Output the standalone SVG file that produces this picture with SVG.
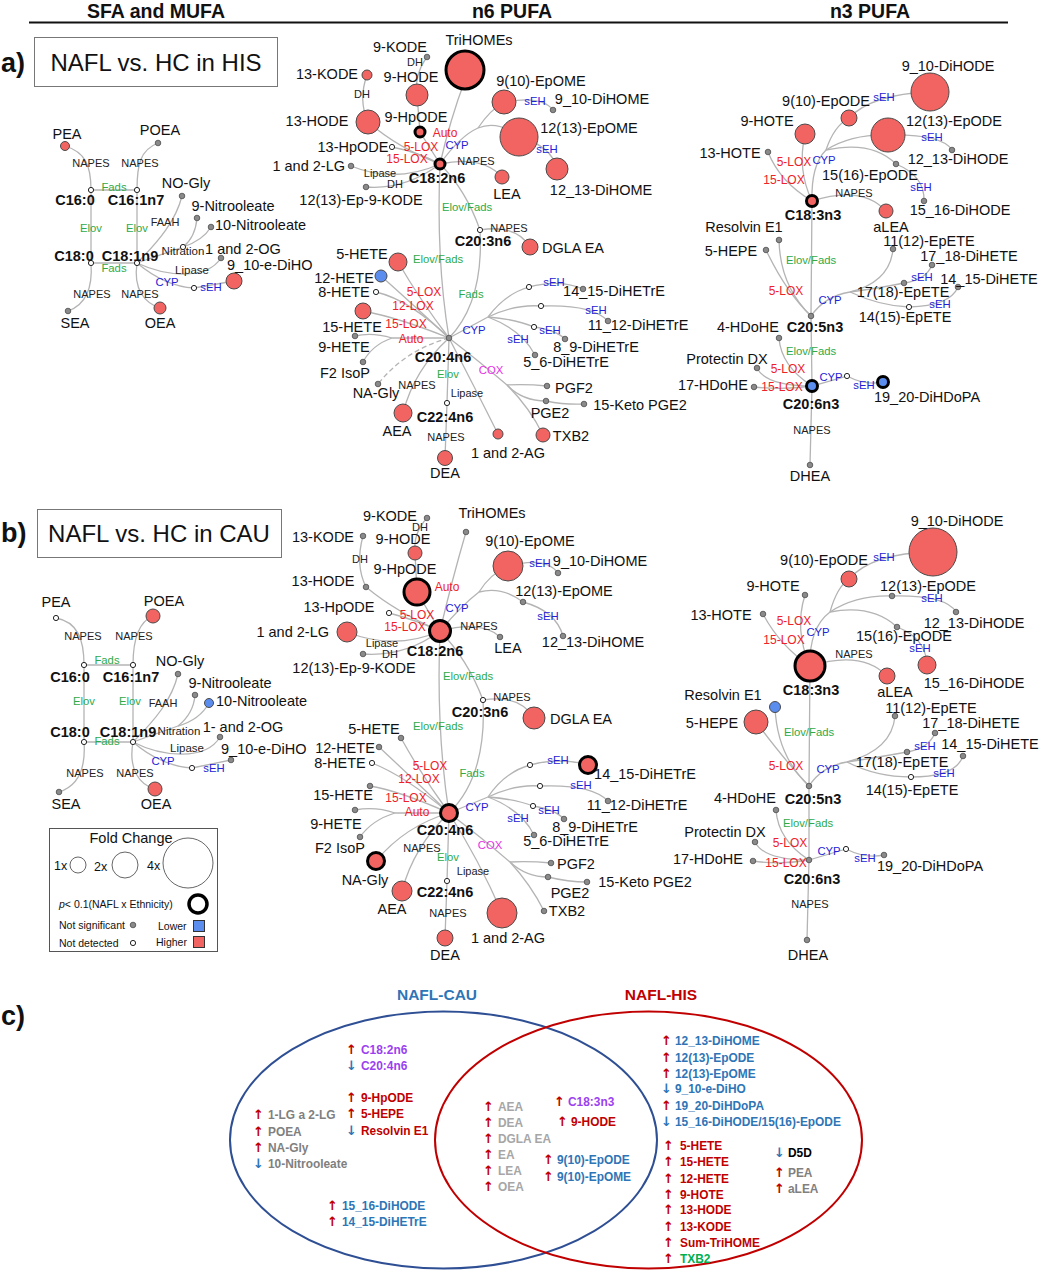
<svg xmlns="http://www.w3.org/2000/svg" width="1041" height="1280" viewBox="0 0 1041 1280">
<style>
text{font-family:"Liberation Sans",Arial,Helvetica,sans-serif}
.e{fill:none;stroke:#b4b4b4;stroke-width:1.3}
.ed{fill:none;stroke:#b4b4b4;stroke-width:1.3;stroke-dasharray:5 3}
.r{fill:#f26461;stroke:#4a4a4a;stroke-width:1}
.rt{fill:#f26461;stroke:#000;stroke-width:3}
.b{fill:#5b8def;stroke:#4a4a4a;stroke-width:1}
.bt{fill:#5b8def;stroke:#000;stroke-width:3}
.g{fill:#8a8a8a;stroke:#4d4d4d;stroke-width:0.8}
.o{fill:#fff;stroke:#222;stroke-width:1}
.l{font-size:14.5px;text-anchor:middle;dominant-baseline:central;fill:#111}
.ls{font-size:14.5px;text-anchor:start;dominant-baseline:central;fill:#111}
.le{font-size:14.5px;text-anchor:end;dominant-baseline:central;fill:#111}
.lb{font-size:14.5px;font-weight:bold;text-anchor:middle;dominant-baseline:central;fill:#111}
.n{font-size:11px;text-anchor:middle;dominant-baseline:central;fill:#222}
.eg{font-size:11.3px;text-anchor:middle;dominant-baseline:central;fill:#2eaa4a}
.er{font-size:12px;text-anchor:middle;dominant-baseline:central;fill:#ee2229}
.eb{font-size:11.3px;text-anchor:middle;dominant-baseline:central;fill:#2323d6}
.em{font-size:11.3px;text-anchor:middle;dominant-baseline:central;fill:#e62ee6}
.hd{font-size:19.5px;font-weight:bold;text-anchor:middle;fill:#111}
.pl{font-size:27px;font-weight:bold;fill:#111}
.bx{font-size:24px;text-anchor:middle;dominant-baseline:central;fill:#111}
.lg{font-size:10.5px;dominant-baseline:central;fill:#111}
.lx{font-size:12.5px;dominant-baseline:central;fill:#111}
.c{font-size:11.9px;font-weight:bold}
.up{fill:#c00000;font-family:"DejaVu Sans",sans-serif;font-size:13px}
.dn{fill:#2e75b6;font-family:"DejaVu Sans",sans-serif;font-size:13px}
.pu{fill:#9b3ff0}
.dr{fill:#c00000}
.bl{fill:#2e75b6}
.gy{fill:#808080}
.lgy{fill:#a6a6a6}
</style>

<!-- headers -->
<g id="headers">
<text class="hd" x="156" y="18">SFA and MUFA</text>
<text class="hd" x="512" y="18">n6 PUFA</text>
<text class="hd" x="870" y="18">n3 PUFA</text>
<line x1="29" y1="22.5" x2="1008" y2="22.5" stroke="#111" stroke-width="2"/>
<text class="pl" x="1" y="72">a)</text>
<rect x="34.5" y="37.5" width="243" height="49" fill="#fff" stroke="#777" stroke-width="1"/>
<text class="bx" x="156" y="62">NAFL vs. HC in HIS</text>
<text class="pl" x="1" y="542">b)</text>
<rect x="37.5" y="509.5" width="244" height="48" fill="#fff" stroke="#777" stroke-width="1"/>
<text class="bx" x="159" y="533">NAFL vs. HC in CAU</text>
<text class="pl" x="1" y="1025">c)</text>
</g>

<!-- connectors -->
<g id="connectors">
<!-- panel a left -->
<path class="e" d="M65,146 C85,152 91,165 91,190"/>
<path class="e" d="M158,143 C140,150 137,165 137,190"/>
<path class="e" d="M91,190 L137,190"/>
<path class="e" d="M91,190 L91,263"/>
<path class="e" d="M137,190 L137,263"/>
<path class="e" d="M91,263 L137,263"/>
<path class="e" d="M91,263 C93,290 85,305 68,311"/>
<path class="e" d="M137,263 C133,290 145,303 160,308"/>
<path class="e" d="M137,263 C160,240 176,220 182,196"/>
<path class="e" d="M137,263 L183,247"/>
<path class="e" d="M183,247 C192,240 196,230 197,218"/>
<path class="e" d="M183,247 C195,243 205,237 211,227"/>
<path class="e" d="M137,263 C165,276 206,281 221,258"/>
<path class="e" d="M137,263 C155,278 175,287 194,288"/>
<path class="e" d="M194,288 L234,281"/>
<!-- panel a middle -->
<path class="e" d="M440,164 Q450,120 465,80"/>
<path class="e" d="M427,57 Q414,75 417,95"/>
<path class="e" d="M417,95 L420,132 L440,164"/>
<path class="e" d="M367,75 Q358,100 368,122"/>
<path class="e" d="M368,122 Q398,148 440,164"/>
<path class="e" d="M392,147 Q418,152 440,164"/>
<path class="e" d="M440,164 Q395,184 351,166"/>
<path class="e" d="M440,164 Q405,190 366,187"/>
<path class="e" d="M440,164 Q460,136 478,128"/>
<path class="e" d="M478,128 Q490,110 504,102"/>
<path class="e" d="M478,128 Q498,120 519,137"/>
<path class="e" d="M504,102 Q542,95 553,110"/>
<path class="e" d="M519,137 Q552,146 557,169"/>
<path class="e" d="M440,164 Q482,155 502,177"/>
<path class="e" d="M440,164 Q466,190 480,230"/>
<path class="e" d="M440,164 Q436,260 449,338"/>
<path class="e" d="M480,230 Q484,302 449,338"/>
<path class="e" d="M480,230 Q516,224 530,247"/>
<path class="e" d="M449,338 Q420,300 398,262"/>
<path class="e" d="M449,338 Q408,300 381,276"/>
<path class="e" d="M449,338 Q410,300 376,292"/>
<path class="e" d="M449,338 Q400,318 363,311"/>
<path class="e" d="M449,338 L392,338"/>
<path class="e" d="M392,338 Q372,332 355,336"/>
<path class="e" d="M392,338 Q372,345 363,362"/>
<path class="ed" d="M449,338 Q405,350 378,384"/>
<path class="e" d="M449,338 Q414,370 403,413"/>
<path class="e" d="M449,338 L447,403 L445,458"/>
<path class="e" d="M449,338 Q476,390 498,434"/>
<path class="e" d="M449,338 Q480,362 507,385"/>
<path class="e" d="M507,385 Q527,384 547,386"/>
<path class="e" d="M507,385 Q522,401 546,401"/>
<path class="e" d="M546,401 Q566,405 584,404"/>
<path class="e" d="M507,385 Q530,408 543,435"/>
<path class="e" d="M449,338 L488,317"/>
<path class="e" d="M488,317 Q505,294 529,287"/>
<path class="e" d="M529,287 Q560,279 583,289"/>
<path class="e" d="M488,317 Q515,304 541,306"/>
<path class="e" d="M541,306 Q592,304 608,321"/>
<path class="e" d="M488,317 Q515,319 534,327"/>
<path class="e" d="M534,327 Q556,330 565,339"/>
<path class="e" d="M488,317 Q522,330 535,355"/>
<!-- panel a right -->
<path class="e" d="M812,201 Q797,170 805,134"/>
<path class="e" d="M812,201 Q780,182 768,152"/>
<path class="e" d="M812,201 Q811,165 826,150"/>
<path class="e" d="M826,150 Q834,126 849,118"/>
<path class="e" d="M826,150 Q852,134 888,135"/>
<path class="e" d="M826,150 Q872,140 896,164"/>
<path class="e" d="M849,118 Q872,94 930,92"/>
<path class="e" d="M888,135 Q942,134 952,150"/>
<path class="e" d="M896,164 Q925,176 924,201"/>
<path class="e" d="M812,201 Q862,185 886,211"/>
<path class="e" d="M812,201 L811,316 L812,386 L810,465"/>
<path class="e" d="M811,316 Q780,286 779,240"/>
<path class="e" d="M811,316 Q786,292 766,250"/>
<path class="e" d="M811,316 Q825,296 850,292"/>
<path class="e" d="M850,292 Q890,282 893,249"/>
<path class="e" d="M850,292 Q880,288 904,283"/>
<path class="e" d="M904,283 Q926,280 932,265"/>
<path class="e" d="M850,292 Q880,306 909,307"/>
<path class="e" d="M909,307 Q950,306 958,287"/>
<path class="e" d="M812,386 Q781,366 779,338"/>
<path class="e" d="M812,386 Q766,386 757,368"/>
<path class="e" d="M812,386 Q784,390 754,387"/>
<path class="e" d="M812,386 L847,376"/>
<path class="e" d="M847,376 Q866,386 883,382"/>
<!-- panel b left -->
<path class="e" d="M56,618 C78,622 84,640 84,665"/>
<path class="e" d="M153,616 C138,622 133,640 133,665"/>
<path class="e" d="M84,665 L133,665"/>
<path class="e" d="M84,665 L84,742"/>
<path class="e" d="M133,665 L133,742"/>
<path class="e" d="M84,742 L133,742"/>
<path class="e" d="M84,742 C86,770 78,786 59,792"/>
<path class="e" d="M133,742 C128,770 140,785 155,789"/>
<path class="e" d="M133,742 C155,720 172,700 178,674"/>
<path class="e" d="M133,742 L178,726"/>
<path class="e" d="M178,726 C188,718 194,708 195,695"/>
<path class="e" d="M178,726 C192,722 203,714 209,703"/>
<path class="e" d="M133,742 C160,756 205,762 220,737"/>
<path class="e" d="M133,742 C150,757 172,767 192,768"/>
<path class="e" d="M192,768 L231,760"/>
<!-- panel b middle -->
<path class="e" d="M440,631 Q452,580 466,532"/>
<path class="e" d="M427,518 Q413,533 415,553"/>
<path class="e" d="M415,553 L417,592 L440,631"/>
<path class="e" d="M363,536 Q355,565 366,587"/>
<path class="e" d="M366,587 Q396,612 440,631"/>
<path class="e" d="M389,613 Q416,620 440,631"/>
<path class="e" d="M440,631 Q395,651 347,632"/>
<path class="e" d="M440,631 Q405,657 363,654"/>
<path class="e" d="M440,631 Q462,605 479,592"/>
<path class="e" d="M479,592 Q490,574 508,566"/>
<path class="e" d="M479,592 Q502,586 523,602"/>
<path class="e" d="M523,602 Q556,611 563,636"/>
<path class="e" d="M508,566 Q546,556 558,573"/>
<path class="e" d="M440,631 Q482,620 500,637"/>
<path class="e" d="M440,631 Q468,660 483,700"/>
<path class="e" d="M440,631 Q436,730 449,813"/>
<path class="e" d="M483,700 Q487,776 449,813"/>
<path class="e" d="M483,700 Q519,694 534,718"/>
<path class="e" d="M449,813 Q422,776 401,738"/>
<path class="e" d="M449,813 Q410,776 379,747"/>
<path class="e" d="M449,813 Q405,776 372,763"/>
<path class="e" d="M449,813 Q400,791 370,786"/>
<path class="e" d="M449,813 L395,813"/>
<path class="e" d="M395,813 Q375,806 355,810"/>
<path class="e" d="M395,813 Q372,820 360,837"/>
<path class="e" d="M449,813 Q405,826 376,861"/>
<path class="e" d="M449,813 Q414,846 402,891"/>
<path class="e" d="M449,813 L447,881 L445,938"/>
<path class="e" d="M449,813 Q479,860 502,913"/>
<path class="e" d="M449,813 Q482,838 510,862"/>
<path class="e" d="M510,862 Q530,861 551,863"/>
<path class="e" d="M510,862 Q526,877 548,877"/>
<path class="e" d="M548,877 Q568,882 587,882"/>
<path class="e" d="M510,862 Q531,885 544,911"/>
<path class="e" d="M449,813 L488,797"/>
<path class="e" d="M488,797 Q505,772 530,765"/>
<path class="e" d="M530,765 Q560,757 588,765"/>
<path class="e" d="M488,797 Q515,784 540,786"/>
<path class="e" d="M540,786 Q592,784 608,801"/>
<path class="e" d="M488,797 Q515,799 533,806"/>
<path class="e" d="M533,806 Q556,810 564,819"/>
<path class="e" d="M488,797 Q522,810 534,835"/>
<!-- panel b right -->
<path class="e" d="M810,666 Q794,630 805,595"/>
<path class="e" d="M810,666 Q780,646 763,614"/>
<path class="e" d="M810,666 Q809,628 830,612"/>
<path class="e" d="M830,612 Q837,587 849,579"/>
<path class="e" d="M830,612 Q856,595 892,596"/>
<path class="e" d="M830,612 Q872,604 897,627"/>
<path class="e" d="M849,579 Q872,553 933,552"/>
<path class="e" d="M892,596 Q946,595 956,612"/>
<path class="e" d="M897,627 Q926,638 927,665"/>
<path class="e" d="M810,666 Q862,650 887,676"/>
<path class="e" d="M810,666 L809,786 L809,860 L807,940"/>
<path class="e" d="M809,786 Q777,756 775,707"/>
<path class="e" d="M809,786 Q786,762 756,722"/>
<path class="e" d="M809,786 Q822,766 847,762"/>
<path class="e" d="M847,762 Q892,750 895,716"/>
<path class="e" d="M847,762 Q880,757 907,752"/>
<path class="e" d="M907,752 Q929,748 935,733"/>
<path class="e" d="M847,762 Q876,777 911,777"/>
<path class="e" d="M911,777 Q956,777 963,756"/>
<path class="e" d="M809,860 Q778,840 776,810"/>
<path class="e" d="M809,860 Q764,860 755,842"/>
<path class="e" d="M809,860 Q781,865 753,861"/>
<path class="e" d="M809,860 L846,849"/>
<path class="e" d="M846,849 Q866,859 884,855"/>
</g>

<!-- edge labels -->
<g id="edge-labels">
<!-- a left -->
<text class="n" x="91" y="163">NAPES</text><text class="n" x="140" y="163">NAPES</text>
<text class="eg" x="114" y="187">Fads</text>
<text class="eg" x="91" y="228">Elov</text><text class="eg" x="137" y="228">Elov</text>
<text class="n" x="165" y="222">FAAH</text>
<text class="n" x="183" y="251" style="font-size:11.5px">Nitration</text>
<text class="eg" x="114" y="268">Fads</text>
<text class="n" x="192" y="270" style="font-size:11.5px">Lipase</text>
<text class="eb" x="167" y="282">CYP</text><text class="eb" x="211" y="287">sEH</text>
<text class="n" x="92" y="294">NAPES</text><text class="n" x="140" y="294">NAPES</text>
<!-- a middle -->
<text class="n" x="415" y="62">DH</text><text class="n" x="362" y="94">DH</text>
<text class="er" x="445" y="133">Auto</text>
<text class="er" x="421" y="147">5-LOX</text>
<text class="eb" x="457" y="145">CYP</text>
<text class="er" x="407" y="159">15-LOX</text>
<text class="n" x="476" y="161">NAPES</text>
<text class="n" x="380" y="173">Lipase</text>
<text class="n" x="395" y="184">DH</text>
<text class="eb" x="535" y="101">sEH</text><text class="eb" x="547" y="149">sEH</text>
<text class="eg" x="467" y="207">Elov/Fads</text>
<text class="n" x="509" y="228">NAPES</text>
<text class="eg" x="438" y="259">Elov/Fads</text>
<text class="er" x="424" y="292">5-LOX</text>
<text class="eg" x="471" y="294">Fads</text>
<text class="er" x="413" y="306">12-LOX</text>
<text class="er" x="406" y="324">15-LOX</text>
<text class="eb" x="474" y="330">CYP</text>
<text class="er" x="411" y="339">Auto</text>
<text class="em" x="491" y="370">COX</text>
<text class="eg" x="448" y="374">Elov</text>
<text class="n" x="417" y="385">NAPES</text>
<text class="n" x="467" y="393">Lipase</text>
<text class="n" x="446" y="437">NAPES</text>
<text class="eb" x="554" y="282">sEH</text><text class="eb" x="596" y="310">sEH</text>
<text class="eb" x="550" y="330">sEH</text><text class="eb" x="518" y="339">sEH</text>
<!-- a right -->
<text class="eb" x="884" y="97">sEH</text><text class="eb" x="932" y="137">sEH</text>
<text class="er" x="794" y="162">5-LOX</text><text class="eb" x="824" y="160">CYP</text>
<text class="er" x="784" y="180">15-LOX</text>
<text class="eb" x="921" y="187">sEH</text>
<text class="n" x="854" y="193">NAPES</text>
<text class="eg" x="811" y="260">Elov/Fads</text>
<text class="eb" x="922" y="277">sEH</text>
<text class="er" x="786" y="291">5-LOX</text>
<text class="eb" x="830" y="300">CYP</text>
<text class="eb" x="940" y="304">sEH</text>
<text class="eg" x="811" y="351">Elov/Fads</text>
<text class="er" x="788" y="369">5-LOX</text>
<text class="eb" x="831" y="377">CYP</text>
<text class="er" x="782" y="387">15-LOX</text>
<text class="eb" x="864" y="385">sEH</text>
<text class="n" x="812" y="430">NAPES</text>
<!-- b left -->
<text class="n" x="83" y="636">NAPES</text><text class="n" x="134" y="636">NAPES</text>
<text class="eg" x="107" y="660">Fads</text>
<text class="eg" x="84" y="701">Elov</text><text class="eg" x="130" y="701">Elov</text>
<text class="n" x="163" y="703">FAAH</text>
<text class="n" x="179" y="731" style="font-size:11.5px">Nitration</text>
<text class="eg" x="107" y="741">Fads</text>
<text class="n" x="187" y="748" style="font-size:11.5px">Lipase</text>
<text class="eb" x="163" y="761">CYP</text><text class="eb" x="214" y="768">sEH</text>
<text class="n" x="85" y="773">NAPES</text><text class="n" x="135" y="773">NAPES</text>
<!-- b middle -->
<text class="n" x="420" y="527">DH</text><text class="n" x="360" y="559">DH</text>
<text class="eb" x="540" y="563">sEH</text>
<text class="er" x="447" y="587">Auto</text>
<text class="er" x="417" y="615">5-LOX</text>
<text class="eb" x="457" y="608">CYP</text>
<text class="eb" x="548" y="616">sEH</text>
<text class="er" x="405" y="627">15-LOX</text>
<text class="n" x="479" y="626">NAPES</text>
<text class="n" x="382" y="643">Lipase</text>
<text class="n" x="390" y="654">DH</text>
<text class="eg" x="468" y="676">Elov/Fads</text>
<text class="n" x="512" y="697">NAPES</text>
<text class="eg" x="438" y="726">Elov/Fads</text>
<text class="er" x="430" y="766">5-LOX</text>
<text class="er" x="419" y="779">12-LOX</text>
<text class="eg" x="472" y="773">Fads</text>
<text class="eb" x="558" y="760">sEH</text><text class="eb" x="581" y="785">sEH</text>
<text class="er" x="406" y="798">15-LOX</text>
<text class="eb" x="477" y="807">CYP</text>
<text class="eb" x="549" y="810">sEH</text>
<text class="er" x="417" y="812">Auto</text>
<text class="eb" x="518" y="818">sEH</text>
<text class="em" x="490" y="845">COX</text>
<text class="n" x="422" y="848">NAPES</text>
<text class="eg" x="448" y="857">Elov</text>
<text class="n" x="473" y="871">Lipase</text>
<text class="n" x="448" y="913">NAPES</text>
<!-- b right -->
<text class="eb" x="884" y="557">sEH</text><text class="eb" x="932" y="598">sEH</text>
<text class="er" x="794" y="621">5-LOX</text><text class="eb" x="818" y="632">CYP</text>
<text class="er" x="784" y="640">15-LOX</text>
<text class="eb" x="920" y="648">sEH</text>
<text class="n" x="854" y="654">NAPES</text>
<text class="eg" x="809" y="732">Elov/Fads</text>
<text class="eb" x="925" y="746">sEH</text>
<text class="er" x="786" y="766">5-LOX</text>
<text class="eb" x="828" y="769">CYP</text>
<text class="eb" x="944" y="773">sEH</text>
<text class="eg" x="808" y="823">Elov/Fads</text>
<text class="er" x="790" y="843">5-LOX</text>
<text class="eb" x="829" y="851">CYP</text>
<text class="eb" x="865" y="858">sEH</text>
<text class="er" x="786" y="863">15-LOX</text>
<text class="n" x="810" y="904">NAPES</text>
</g>

<!-- panel a left nodes -->
<g id="a-PEA"><circle class="r" cx="65" cy="146" r="4.5"/><text class="l" x="67" y="134">PEA</text></g>
<g id="a-POEA"><circle class="g" cx="158" cy="143" r="2.8"/><text class="l" x="160" y="130">POEA</text></g>
<g id="a-C16_0"><circle class="o" cx="91" cy="190" r="2.6"/><text class="lb" x="75" y="200">C16:0</text></g>
<g id="a-C16_1n7"><circle class="o" cx="137" cy="190" r="2.6"/><text class="lb" x="136" y="200">C16:1n7</text></g>
<g id="a-NOGly"><circle class="g" cx="182" cy="196" r="2.8"/><text class="l" x="186" y="183">NO-Gly</text></g>
<g id="a-9Nitro"><circle class="g" cx="197" cy="218" r="2.8"/><text class="l" x="233" y="206">9-Nitrooleate</text></g>
<g id="a-10Nitro"><circle class="g" cx="211" cy="227" r="2.8"/><text class="ls" x="215" y="225">10-Nitrooleate</text></g>
<g id="a-nitration"><circle class="o" cx="183" cy="247" r="2.6"/></g>
<g id="a-OG"><circle class="g" cx="221" cy="258" r="2.8"/><text class="l" x="243" y="249">1 and 2-OG</text></g>
<g id="a-C18_0"><circle class="o" cx="91" cy="263" r="2.6"/><text class="lb" x="74" y="256">C18:0</text></g>
<g id="a-C18_1n9"><circle class="o" cx="137" cy="263" r="2.6"/><text class="lb" x="130" y="256">C18:1n9</text></g>
<g id="a-cyp1"><circle class="o" cx="194" cy="288" r="2.6"/></g>
<g id="a-eDiHO"><circle class="r" cx="234" cy="281" r="8"/><text class="ls" x="227" y="265">9_10-e-DiHO</text></g>
<g id="a-SEA"><circle class="g" cx="68" cy="311" r="2.8"/><text class="l" x="75" y="323">SEA</text></g>
<g id="a-OEA"><circle class="r" cx="160" cy="308" r="6"/><text class="l" x="160" y="323">OEA</text></g>

<!-- panel a middle nodes -->
<g id="a-TriHOMEs"><circle class="rt" cx="465" cy="70" r="19"/><text class="l" x="479" y="40">TriHOMEs</text></g>
<g id="a-9KODE"><circle class="g" cx="427" cy="57" r="2.8"/><text class="l" x="400" y="47">9-KODE</text></g>
<g id="a-13KODE"><circle class="r" cx="367" cy="75" r="5"/><text class="l" x="327" y="74">13-KODE</text></g>
<g id="a-9HODE"><circle class="r" cx="417" cy="95" r="11"/><text class="l" x="411" y="77">9-HODE</text></g>
<g id="a-13HODE"><circle class="r" cx="368" cy="122" r="12"/><text class="l" x="317" y="121">13-HODE</text></g>
<g id="a-9HpODE"><circle class="rt" cx="420" cy="132" r="5"/><text class="l" x="416" y="117">9-HpODE</text></g>
<g id="a-13HpODE"><circle class="o" cx="392" cy="147" r="2.6"/><text class="l" x="353" y="147">13-HpODE</text></g>
<g id="a-C18_2n6"><circle class="rt" cx="440" cy="164" r="5"/><text class="lb" x="437" y="178">C18:2n6</text></g>
<g id="a-LG"><circle class="g" cx="351" cy="166" r="2.8"/><text class="le" x="345" y="166">1 and 2-LG</text></g>
<g id="a-EpKODE"><circle class="g" cx="366" cy="187" r="2.8"/><text class="l" x="361" y="200">12(13)-Ep-9-KODE</text></g>
<g id="a-910EpOME"><circle class="r" cx="504" cy="102" r="12"/><text class="l" x="541" y="81">9(10)-EpOME</text></g>
<g id="a-910DiHOME"><circle class="g" cx="553" cy="110" r="2.8"/><text class="l" x="602" y="99">9_10-DiHOME</text></g>
<g id="a-1213EpOME"><circle class="r" cx="519" cy="137" r="19"/><text class="l" x="589" y="128">12(13)-EpOME</text></g>
<g id="a-1213DiHOME"><circle class="r" cx="557" cy="169" r="11"/><text class="l" x="601" y="190">12_13-DiHOME</text></g>
<g id="a-LEA"><circle class="r" cx="502" cy="177" r="7"/><text class="l" x="507" y="194">LEA</text></g>
<g id="a-C20_3n6"><circle class="o" cx="480" cy="230" r="2.6"/><text class="lb" x="483" y="241">C20:3n6</text></g>
<g id="a-DGLAEA"><circle class="r" cx="530" cy="247" r="8"/><text class="l" x="573" y="248">DGLA EA</text></g>
<g id="a-5HETE"><circle class="r" cx="398" cy="262" r="9"/><text class="l" x="362" y="254">5-HETE</text></g>
<g id="a-12HETE"><circle class="b" cx="381" cy="276" r="6"/><text class="l" x="344" y="278">12-HETE</text></g>
<g id="a-8HETE"><circle class="o" cx="376" cy="292" r="2.6"/><text class="l" x="344" y="292">8-HETE</text></g>
<g id="a-15HETE"><circle class="r" cx="363" cy="311" r="8"/><text class="l" x="352" y="327">15-HETE</text></g>
<g id="a-9HETE"><circle class="g" cx="355" cy="336" r="2.8"/><text class="l" x="344" y="347">9-HETE</text></g>
<g id="a-F2IsoP"><circle class="g" cx="363" cy="362" r="2.8"/><text class="l" x="345" y="373">F2 IsoP</text></g>
<g id="a-NAGly"><circle class="g" cx="378" cy="384" r="2.8"/><text class="l" x="376" y="393">NA-Gly</text></g>
<g id="a-C20_4n6"><circle class="g" cx="449" cy="338" r="2.8"/><text class="lb" x="443" y="357">C20:4n6</text></g>
<g id="a-AEA"><circle class="r" cx="403" cy="413" r="9"/><text class="l" x="397" y="431">AEA</text></g>
<g id="a-C22_4n6"><circle class="o" cx="447" cy="403" r="2.6"/><text class="lb" x="445" y="417">C22:4n6</text></g>
<g id="a-DEA"><circle class="r" cx="445" cy="458" r="7.5"/><text class="l" x="445" y="473">DEA</text></g>
<g id="a-AG"><circle class="r" cx="498" cy="434" r="5"/><text class="l" x="508" y="453">1 and 2-AG</text></g>
<g id="a-TXB2"><circle class="r" cx="543" cy="435" r="7"/><text class="l" x="571" y="436">TXB2</text></g>
<g id="a-PGF2"><circle class="g" cx="547" cy="386" r="2.8"/><text class="l" x="574" y="388">PGF2</text></g>
<g id="a-PGE2"><circle class="g" cx="546" cy="401" r="2.8"/><text class="l" x="550" y="413">PGE2</text></g>
<g id="a-15KetoPGE2"><circle class="g" cx="584" cy="404" r="2.8"/><text class="l" x="640" y="405">15-Keto PGE2</text></g>
<g id="a-cyp2"><circle class="o" cx="529" cy="287" r="2.6"/><circle class="o" cx="541" cy="306" r="2.6"/><circle class="o" cx="534" cy="327" r="2.6"/></g>
<g id="a-1415DiHETrE"><circle class="g" cx="583" cy="289" r="2.8"/><text class="l" x="614" y="291">14_15-DiHETrE</text></g>
<g id="a-1112DiHETrE"><circle class="g" cx="608" cy="321" r="2.8"/><text class="l" x="638" y="325">11_12-DiHETrE</text></g>
<g id="a-89DiHETrE"><circle class="g" cx="565" cy="339" r="2.8"/><text class="l" x="596" y="347">8_9-DiHETrE</text></g>
<g id="a-56DiHETrE"><circle class="g" cx="535" cy="355" r="2.8"/><text class="l" x="566" y="362">5_6-DiHETrE</text></g>

<!-- panel a right nodes -->
<g id="a-910DiHODE"><circle class="r" cx="930" cy="92" r="19"/><text class="l" x="948" y="66">9_10-DiHODE</text></g>
<g id="a-910EpODE"><circle class="r" cx="849" cy="118" r="8"/><text class="l" x="826" y="101">9(10)-EpODE</text></g>
<g id="a-9HOTE"><circle class="r" cx="805" cy="134" r="10"/><text class="l" x="767" y="121">9-HOTE</text></g>
<g id="a-1213EpODE"><circle class="r" cx="888" cy="135" r="17"/><text class="l" x="954" y="121">12(13)-EpODE</text></g>
<g id="a-13HOTE"><circle class="g" cx="768" cy="152" r="2.8"/><text class="l" x="730" y="153">13-HOTE</text></g>
<g id="a-1213DiHODE"><circle class="g" cx="952" cy="150" r="2.8"/><text class="l" x="958" y="159">12_13-DiHODE</text></g>
<g id="a-1516EpODE"><circle class="g" cx="896" cy="164" r="2.8"/><text class="l" x="870" y="175">15(16)-EpODE</text></g>
<g id="a-C18_3n3"><circle class="rt" cx="812" cy="201" r="5.5"/><text class="lb" x="813" y="215">C18:3n3</text></g>
<g id="a-1516DiHODE"><circle class="g" cx="924" cy="201" r="2.8"/><text class="l" x="960" y="210">15_16-DiHODE</text></g>
<g id="a-aLEA"><circle class="r" cx="886" cy="211" r="7"/><text class="l" x="891" y="227">aLEA</text></g>
<g id="a-ResolvinE1"><circle class="g" cx="779" cy="240" r="2.8"/><text class="l" x="744" y="227">Resolvin E1</text></g>
<g id="a-5HEPE"><circle class="g" cx="766" cy="250" r="2.8"/><text class="l" x="731" y="251">5-HEPE</text></g>
<g id="a-1112EpETE"><circle class="g" cx="893" cy="249" r="2.8"/><text class="l" x="929" y="241">11(12)-EpETE</text></g>
<g id="a-1718DiHETE"><circle class="g" cx="932" cy="265" r="2.8"/><text class="l" x="969" y="256">17_18-DiHETE</text></g>
<g id="a-1718EpETE"><circle class="g" cx="904" cy="283" r="2.8"/><text class="l" x="903" y="292">17(18)-EpETE</text></g>
<g id="a-1415DiHETE"><circle class="g" cx="958" cy="287" r="2.8"/><text class="l" x="989" y="279">14_15-DiHETE</text></g>
<g id="a-1415EpETE"><circle class="o" cx="909" cy="307" r="2.6"/><text class="l" x="905" y="317">14(15)-EpETE</text></g>
<g id="a-C20_5n3"><circle class="g" cx="811" cy="316" r="2.8"/><text class="lb" x="815" y="327">C20:5n3</text></g>
<g id="a-4HDoHE"><circle class="g" cx="779" cy="338" r="2.8"/><text class="l" x="748" y="327">4-HDoHE</text></g>
<g id="a-ProtectinDX"><circle class="g" cx="757" cy="368" r="2.8"/><text class="l" x="727" y="359">Protectin DX</text></g>
<g id="a-17HDoHE"><circle class="g" cx="754" cy="387" r="2.8"/><text class="le" x="748" y="385">17-HDoHE</text></g>
<g id="a-C20_6n3"><circle class="bt" cx="812" cy="386" r="5.5"/><text class="lb" x="811" y="404">C20:6n3</text></g>
<g id="a-cyp3"><circle class="o" cx="847" cy="376" r="2.6"/></g>
<g id="a-1920DiHDoPA"><circle class="bt" cx="883" cy="382" r="5.5"/><text class="l" x="927" y="397">19_20-DiHDoPA</text></g>
<g id="a-DHEA"><circle class="g" cx="810" cy="465" r="2.8"/><text class="l" x="810" y="476">DHEA</text></g>

<!-- panel b left nodes -->
<g id="b-PEA"><circle class="o" cx="56" cy="618" r="2.6"/><text class="l" x="56" y="602">PEA</text></g>
<g id="b-POEA"><circle class="r" cx="153" cy="616" r="7"/><text class="l" x="164" y="601">POEA</text></g>
<g id="b-C16_0"><circle class="o" cx="84" cy="665" r="2.6"/><text class="lb" x="70" y="677">C16:0</text></g>
<g id="b-C16_1n7"><circle class="o" cx="133" cy="665" r="2.6"/><text class="lb" x="131" y="677">C16:1n7</text></g>
<g id="b-NOGly"><circle class="g" cx="178" cy="674" r="2.8"/><text class="l" x="180" y="661">NO-Gly</text></g>
<g id="b-9Nitro"><circle class="g" cx="195" cy="695" r="2.8"/><text class="l" x="230" y="683">9-Nitrooleate</text></g>
<g id="b-10Nitro"><circle class="b" cx="209" cy="703" r="4.5"/><text class="ls" x="216" y="701">10-Nitrooleate</text></g>
<g id="b-OG"><circle class="g" cx="220" cy="737" r="2.8"/><text class="l" x="243" y="727">1- and 2-OG</text></g>
<g id="b-C18_0"><circle class="o" cx="84" cy="742" r="2.6"/><text class="lb" x="70" y="732">C18:0</text></g>
<g id="b-C18_1n9"><circle class="o" cx="133" cy="742" r="2.6"/><text class="lb" x="128" y="732">C18:1n9</text></g>
<g id="b-cyp1"><circle class="o" cx="192" cy="768" r="2.6"/></g>
<g id="b-eDiHO"><circle class="g" cx="231" cy="760" r="2.8"/><text class="ls" x="221" y="749">9_10-e-DiHO</text></g>
<g id="b-SEA"><circle class="g" cx="59" cy="792" r="2.8"/><text class="l" x="66" y="804">SEA</text></g>
<g id="b-OEA"><circle class="r" cx="155" cy="789" r="7"/><text class="l" x="156" y="804">OEA</text></g>

<!-- legend -->
<g id="legend">
<rect x="49.5" y="828.5" width="168" height="123" fill="#fff" stroke="#555" stroke-width="1"/>
<text class="l" x="131" y="838">Fold Change</text>
<text class="lx" x="54" y="866">1x</text>
<circle cx="78" cy="865" r="8" fill="#fff" stroke="#555" stroke-width="0.9"/>
<text class="lx" x="94" y="867">2x</text>
<circle cx="125" cy="865" r="13" fill="#fff" stroke="#555" stroke-width="0.9"/>
<text class="lx" x="147" y="866">4x</text>
<circle cx="188" cy="863" r="25" fill="#fff" stroke="#555" stroke-width="0.9"/>
<text class="lg" x="59" y="904"><tspan font-style="italic">p</tspan>&lt; 0.1(NAFL x Ethnicity)</text>
<circle cx="198" cy="904" r="9" fill="#fff" stroke="#000" stroke-width="3.5"/>
<text class="lg" x="59" y="925">Not significant</text>
<circle class="g" cx="133" cy="925" r="2.8"/>
<text class="lg" x="59" y="943">Not detected</text>
<circle class="o" cx="133" cy="943" r="2.6"/>
<text class="lg" x="158" y="926">Lower</text>
<rect x="193.5" y="920.5" width="11" height="11" fill="#5b8def" stroke="#333"/>
<text class="lg" x="156" y="942">Higher</text>
<rect x="193.5" y="936.5" width="11" height="11" fill="#f26461" stroke="#333"/>
</g>

<!-- panel b middle nodes -->
<g id="b-TriHOMEs"><circle class="g" cx="466" cy="532" r="2.8"/><text class="l" x="492" y="513">TriHOMEs</text></g>
<g id="b-9KODE"><circle class="g" cx="427" cy="518" r="2.8"/><text class="l" x="390" y="516">9-KODE</text></g>
<g id="b-13KODE"><circle class="g" cx="363" cy="536" r="2.8"/><text class="l" x="323" y="537">13-KODE</text></g>
<g id="b-9HODE"><circle class="r" cx="415" cy="553" r="7"/><text class="l" x="403" y="539">9-HODE</text></g>
<g id="b-13HODE"><circle class="g" cx="366" cy="587" r="2.8"/><text class="l" x="323" y="581">13-HODE</text></g>
<g id="b-9HpODE"><circle class="rt" cx="417" cy="592" r="13"/><text class="l" x="405" y="569">9-HpODE</text></g>
<g id="b-13HpODE"><circle class="o" cx="389" cy="613" r="2.6"/><text class="l" x="339" y="607">13-HpODE</text></g>
<g id="b-LG"><circle class="r" cx="347" cy="632" r="10"/><text class="le" x="329" y="632">1 and 2-LG</text></g>
<g id="b-C18_2n6"><circle class="rt" cx="440" cy="631" r="10.5"/><text class="lb" x="435" y="651">C18:2n6</text></g>
<g id="b-EpKODE"><circle class="g" cx="363" cy="654" r="2.8"/><text class="l" x="354" y="668">12(13)-Ep-9-KODE</text></g>
<g id="b-910EpOME"><circle class="r" cx="508" cy="566" r="15"/><text class="l" x="530" y="541">9(10)-EpOME</text></g>
<g id="b-910DiHOME"><circle class="g" cx="558" cy="573" r="2.8"/><text class="l" x="600" y="561">9_10-DiHOME</text></g>
<g id="b-1213EpOME"><circle class="g" cx="523" cy="602" r="2.8"/><text class="l" x="564" y="591">12(13)-EpOME</text></g>
<g id="b-1213DiHOME"><circle class="g" cx="563" cy="636" r="2.8"/><text class="l" x="593" y="642">12_13-DiHOME</text></g>
<g id="b-LEA"><circle class="g" cx="500" cy="637" r="2.8"/><text class="l" x="508" y="648">LEA</text></g>
<g id="b-C20_3n6"><circle class="o" cx="483" cy="700" r="2.6"/><text class="lb" x="480" y="712">C20:3n6</text></g>
<g id="b-DGLAEA"><circle class="r" cx="534" cy="718" r="11"/><text class="l" x="581" y="719">DGLA EA</text></g>
<g id="b-5HETE"><circle class="g" cx="401" cy="738" r="2.8"/><text class="l" x="374" y="729">5-HETE</text></g>
<g id="b-12HETE"><circle class="g" cx="379" cy="747" r="2.8"/><text class="l" x="345" y="748">12-HETE</text></g>
<g id="b-8HETE"><circle class="o" cx="372" cy="763" r="2.6"/><text class="l" x="340" y="763">8-HETE</text></g>
<g id="b-15HETE"><circle class="g" cx="370" cy="786" r="2.8"/><text class="l" x="343" y="795">15-HETE</text></g>
<g id="b-9HETE"><circle class="g" cx="355" cy="810" r="2.8"/><text class="l" x="336" y="824">9-HETE</text></g>
<g id="b-F2IsoP"><circle class="g" cx="360" cy="837" r="2.8"/><text class="l" x="340" y="848">F2 IsoP</text></g>
<g id="b-NAGly"><circle class="rt" cx="376" cy="861" r="8.5"/><text class="l" x="365" y="880">NA-Gly</text></g>
<g id="b-C20_4n6"><circle class="rt" cx="449" cy="813" r="8.5"/><text class="lb" x="445" y="830">C20:4n6</text></g>
<g id="b-AEA"><circle class="r" cx="402" cy="891" r="10"/><text class="l" x="392" y="909">AEA</text></g>
<g id="b-C22_4n6"><circle class="o" cx="447" cy="881" r="2.6"/><text class="lb" x="445" y="892">C22:4n6</text></g>
<g id="b-DEA"><circle class="r" cx="445" cy="938" r="8"/><text class="l" x="445" y="955">DEA</text></g>
<g id="b-AG"><circle class="r" cx="502" cy="913" r="15"/><text class="l" x="508" y="938">1 and 2-AG</text></g>
<g id="b-TXB2"><circle class="g" cx="544" cy="911" r="2.8"/><text class="l" x="567" y="911">TXB2</text></g>
<g id="b-PGF2"><circle class="g" cx="551" cy="863" r="2.8"/><text class="l" x="576" y="864">PGF2</text></g>
<g id="b-PGE2"><circle class="g" cx="548" cy="877" r="2.8"/><text class="l" x="570" y="893">PGE2</text></g>
<g id="b-15KetoPGE2"><circle class="g" cx="587" cy="882" r="2.8"/><text class="l" x="645" y="882">15-Keto PGE2</text></g>
<g id="b-cyp2"><circle class="o" cx="530" cy="765" r="2.6"/><circle class="o" cx="540" cy="786" r="2.6"/><circle class="o" cx="533" cy="806" r="2.6"/></g>
<g id="b-1415DiHETrE"><circle class="rt" cx="588" cy="765" r="8.5"/><text class="l" x="645" y="774">14_15-DiHETrE</text></g>
<g id="b-1112DiHETrE"><circle class="g" cx="608" cy="801" r="2.8"/><text class="l" x="637" y="805">11_12-DiHETrE</text></g>
<g id="b-89DiHETrE"><circle class="g" cx="564" cy="819" r="2.8"/><text class="l" x="595" y="827">8_9-DiHETrE</text></g>
<g id="b-56DiHETrE"><circle class="g" cx="534" cy="835" r="2.8"/><text class="l" x="566" y="841">5_6-DiHETrE</text></g>

<!-- panel b right nodes -->
<g id="b-910DiHODE"><circle class="r" cx="933" cy="552" r="24"/><text class="l" x="957" y="521">9_10-DiHODE</text></g>
<g id="b-910EpODE"><circle class="r" cx="849" cy="579" r="8"/><text class="l" x="824" y="560">9(10)-EpODE</text></g>
<g id="b-9HOTE"><circle class="g" cx="805" cy="595" r="2.8"/><text class="l" x="773" y="586">9-HOTE</text></g>
<g id="b-1213EpODE"><circle class="g" cx="892" cy="596" r="2.8"/><text class="l" x="928" y="586">12(13)-EpODE</text></g>
<g id="b-13HOTE"><circle class="g" cx="763" cy="614" r="2.8"/><text class="l" x="721" y="615">13-HOTE</text></g>
<g id="b-1213DiHODE"><circle class="g" cx="956" cy="612" r="2.8"/><text class="l" x="974" y="623">12_13-DiHODE</text></g>
<g id="b-1516EpODE"><circle class="g" cx="897" cy="627" r="2.8"/><text class="l" x="904" y="636">15(16)-EpODE</text></g>
<g id="b-C18_3n3"><circle class="rt" cx="810" cy="666" r="15"/><text class="lb" x="811" y="690">C18:3n3</text></g>
<g id="b-1516DiHODE"><circle class="r" cx="927" cy="665" r="9"/><text class="l" x="974" y="683">15_16-DiHODE</text></g>
<g id="b-aLEA"><circle class="r" cx="887" cy="676" r="8"/><text class="l" x="895" y="692">aLEA</text></g>
<g id="b-ResolvinE1"><circle class="b" cx="775" cy="707" r="5.5"/><text class="l" x="723" y="695">Resolvin E1</text></g>
<g id="b-5HEPE"><circle class="r" cx="756" cy="722" r="12"/><text class="l" x="712" y="723">5-HEPE</text></g>
<g id="b-1112EpETE"><circle class="g" cx="895" cy="716" r="2.8"/><text class="l" x="931" y="708">11(12)-EpETE</text></g>
<g id="b-1718DiHETE"><circle class="g" cx="935" cy="733" r="2.8"/><text class="l" x="971" y="723">17_18-DiHETE</text></g>
<g id="b-1718EpETE"><circle class="g" cx="907" cy="752" r="2.8"/><text class="l" x="902" y="762">17(18)-EpETE</text></g>
<g id="b-1415DiHETE"><circle class="g" cx="963" cy="756" r="2.8"/><text class="l" x="990" y="744">14_15-DiHETE</text></g>
<g id="b-1415EpETE"><circle class="o" cx="911" cy="777" r="2.6"/><text class="l" x="912" y="790">14(15)-EpETE</text></g>
<g id="b-C20_5n3"><circle class="g" cx="809" cy="786" r="2.8"/><text class="lb" x="813" y="799">C20:5n3</text></g>
<g id="b-4HDoHE"><circle class="g" cx="776" cy="810" r="2.8"/><text class="l" x="745" y="798">4-HDoHE</text></g>
<g id="b-ProtectinDX"><circle class="g" cx="755" cy="842" r="2.8"/><text class="l" x="725" y="832">Protectin DX</text></g>
<g id="b-17HDoHE"><circle class="g" cx="753" cy="861" r="2.8"/><text class="le" x="743" y="859">17-HDoHE</text></g>
<g id="b-C20_6n3"><circle class="g" cx="809" cy="860" r="2.8"/><text class="lb" x="812" y="879">C20:6n3</text></g>
<g id="b-cyp3"><circle class="o" cx="846" cy="849" r="2.6"/></g>
<g id="b-1920DiHDoPA"><circle class="g" cx="884" cy="855" r="2.8"/><text class="l" x="930" y="866">19_20-DiHDoPA</text></g>
<g id="b-DHEA"><circle class="g" cx="807" cy="940" r="2.8"/><text class="l" x="808" y="955">DHEA</text></g>

<!-- panel c -->
<g id="venn">
<ellipse cx="443.5" cy="1140" rx="213.5" ry="128.5" fill="none" stroke="#2f4f94" stroke-width="2"/>
<ellipse cx="648.5" cy="1140" rx="213.5" ry="128.5" fill="none" stroke="#c00000" stroke-width="2"/>
<text x="437" y="1000" text-anchor="middle" font-size="15.5px" font-weight="bold" fill="#2e75b6">NAFL-CAU</text>
<text x="661" y="1000" text-anchor="middle" font-size="15.5px" font-weight="bold" fill="#c00000">NAFL-HIS</text>
</g>
<g id="venn-cau" class="c">
<text x="346" y="1054"><tspan class="up">↑</tspan><tspan x="361" class="pu">C18:2n6</tspan></text>
<text x="346" y="1070"><tspan class="dn">↓</tspan><tspan x="361" class="pu">C20:4n6</tspan></text>
<text x="346" y="1102"><tspan class="up">↑</tspan><tspan x="361" class="dr">9-HpODE</tspan></text>
<text x="346" y="1118"><tspan class="up">↑</tspan><tspan x="361" class="dr">5-HEPE</tspan></text>
<text x="346" y="1135"><tspan class="dn">↓</tspan><tspan x="361" class="dr">Resolvin E1</tspan></text>
<text x="253" y="1119"><tspan class="up">↑</tspan><tspan x="268" class="gy">1-LG a 2-LG</tspan></text>
<text x="253" y="1136"><tspan class="up">↑</tspan><tspan x="268" class="gy">POEA</tspan></text>
<text x="253" y="1152"><tspan class="up">↑</tspan><tspan x="268" class="gy">NA-Gly</tspan></text>
<text x="253" y="1168"><tspan class="dn">↓</tspan><tspan x="268" class="gy">10-Nitrooleate</tspan></text>
<text x="327" y="1210"><tspan class="up">↑</tspan><tspan x="342" class="bl">15_16-DiHODE</tspan></text>
<text x="327" y="1226"><tspan class="up">↑</tspan><tspan x="342" class="bl">14_15-DiHETrE</tspan></text>
</g>
<g id="venn-both" class="c">
<text x="483" y="1111"><tspan class="up">↑</tspan><tspan x="498" class="lgy">AEA</tspan></text>
<text x="483" y="1127"><tspan class="up">↑</tspan><tspan x="498" class="lgy">DEA</tspan></text>
<text x="483" y="1143"><tspan class="up">↑</tspan><tspan x="498" class="lgy">DGLA EA</tspan></text>
<text x="483" y="1159"><tspan class="up">↑</tspan><tspan x="498" class="lgy">EA</tspan></text>
<text x="483" y="1175"><tspan class="up">↑</tspan><tspan x="498" class="lgy">LEA</tspan></text>
<text x="483" y="1191"><tspan class="up">↑</tspan><tspan x="498" class="lgy">OEA</tspan></text>
<text x="554" y="1106"><tspan class="up">↑</tspan><tspan x="568" class="pu">C18:3n3</tspan></text>
<text x="557" y="1126"><tspan class="up">↑</tspan><tspan x="571" class="dr">9-HODE</tspan></text>
<text x="543" y="1164"><tspan class="up">↑</tspan><tspan x="557" class="bl">9(10)-EpODE</tspan></text>
<text x="543" y="1181"><tspan class="up">↑</tspan><tspan x="557" class="bl">9(10)-EpOME</tspan></text>
</g>
<g id="venn-his" class="c">
<text x="661" y="1045"><tspan class="up">↑</tspan><tspan x="675" class="bl">12_13-DiHOME</tspan></text>
<text x="661" y="1062"><tspan class="up">↑</tspan><tspan x="675" class="bl">12(13)-EpODE</tspan></text>
<text x="661" y="1078"><tspan class="up">↑</tspan><tspan x="675" class="bl">12(13)-EpOME</tspan></text>
<text x="661" y="1093"><tspan class="dn">↓</tspan><tspan x="675" class="bl">9_10-e-DiHO</tspan></text>
<text x="661" y="1110"><tspan class="up">↑</tspan><tspan x="675" class="bl">19_20-DiHDoPA</tspan></text>
<text x="661" y="1126"><tspan class="dn">↓</tspan><tspan x="675" class="bl">15_16-DiHODE/15(16)-EpODE</tspan></text>
<text x="663" y="1150"><tspan class="up">↑</tspan><tspan x="680" class="dr">5-HETE</tspan></text>
<text x="663" y="1166"><tspan class="up">↑</tspan><tspan x="680" class="dr">15-HETE</tspan></text>
<text x="663" y="1183"><tspan class="up">↑</tspan><tspan x="680" class="dr">12-HETE</tspan></text>
<text x="663" y="1199"><tspan class="up">↑</tspan><tspan x="680" class="dr">9-HOTE</tspan></text>
<text x="663" y="1214"><tspan class="up">↑</tspan><tspan x="680" class="dr">13-HODE</tspan></text>
<text x="663" y="1231"><tspan class="up">↑</tspan><tspan x="680" class="dr">13-KODE</tspan></text>
<text x="663" y="1247"><tspan class="up">↑</tspan><tspan x="680" class="dr">Sum-TriHOME</tspan></text>
<text x="663" y="1263"><tspan class="up">↑</tspan><tspan x="680" fill="#00b050">TXB2</tspan></text>
<text x="774" y="1157"><tspan class="dn">↓</tspan><tspan x="788" fill="#000">D5D</tspan></text>
<text x="774" y="1177"><tspan class="up">↑</tspan><tspan x="788" class="gy">PEA</tspan></text>
<text x="774" y="1193"><tspan class="up">↑</tspan><tspan x="788" class="gy">aLEA</tspan></text>
</g>
</svg>
